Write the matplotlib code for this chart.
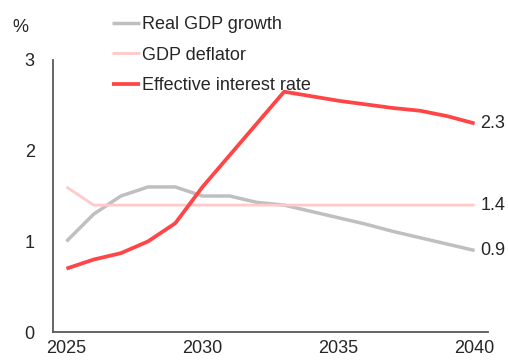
import matplotlib
matplotlib.use("Agg")
import matplotlib.pyplot as plt

plt.rcParams['font.family'] = ['Liberation Sans', 'DejaVu Sans']

years = list(range(2025, 2041))
real_gdp = [1.0, 1.3, 1.5, 1.6, 1.6, 1.5, 1.5, 1.43, 1.4, 1.33, 1.26, 1.19, 1.11, 1.04, 0.97, 0.9]
deflator = [1.6, 1.4, 1.4, 1.4, 1.4, 1.4, 1.4, 1.4, 1.4, 1.4, 1.4, 1.4, 1.4, 1.4, 1.4, 1.4]
eff_rate = [0.7, 0.8, 0.87, 1.0, 1.2, 1.6, 1.95, 2.3, 2.65, 2.6, 2.55, 2.51, 2.47, 2.44, 2.38, 2.3]

series = [
    ("Real GDP growth", real_gdp, "#bfbfbf", 2.5),
    ("GDP deflator", deflator, "#ffc9c9", 2.0),
    ("Effective interest rate", eff_rate, "#ff4545", 2.7),
]

FS = 13

fig = plt.figure(figsize=(5.08, 3.61), dpi=100)
ax = fig.add_axes([0.104, 0.080, 0.857, 0.754])

for name, vals, col, lw in series:
    ax.plot(years, vals, color=col, linewidth=lw, label=name, solid_capstyle='butt')

# end-of-line value labels
for name, vals, col, lw in series:
    ax.annotate(f"{vals[-1]:.1f}", (years[-1], vals[-1]), xytext=(4, 0),
                textcoords='offset points', va='center', ha='left',
                fontsize=FS, color='#262626', annotation_clip=False)

ax.set_xlim(2024.5, 2040.5)
ax.set_ylim(0, 3)
ax.set_xticks([2025, 2030, 2035, 2040])
ax.set_yticks([0, 1, 2, 3])
ax.tick_params(length=0, labelsize=FS, colors='#262626')
ax.tick_params(axis='y', pad=13)
ax.tick_params(axis='x', pad=6)
for s in ['top', 'right']:
    ax.spines[s].set_visible(False)
for s in ['left', 'bottom']:
    ax.spines[s].set_color('#595959')
    ax.spines[s].set_linewidth(1.3)

fig.text(0.04, 0.925, "%", fontsize=FS, color='#262626', ha='center', va='center')

fig.legend(loc='upper left', bbox_to_anchor=(0.22, 0.955), frameon=False,
           fontsize=FS, handlelength=1.55, handletextpad=0.12, labelspacing=0.75,
           borderpad=0, borderaxespad=0, labelcolor='#262626')

fig.savefig("out.png", dpi=100)
